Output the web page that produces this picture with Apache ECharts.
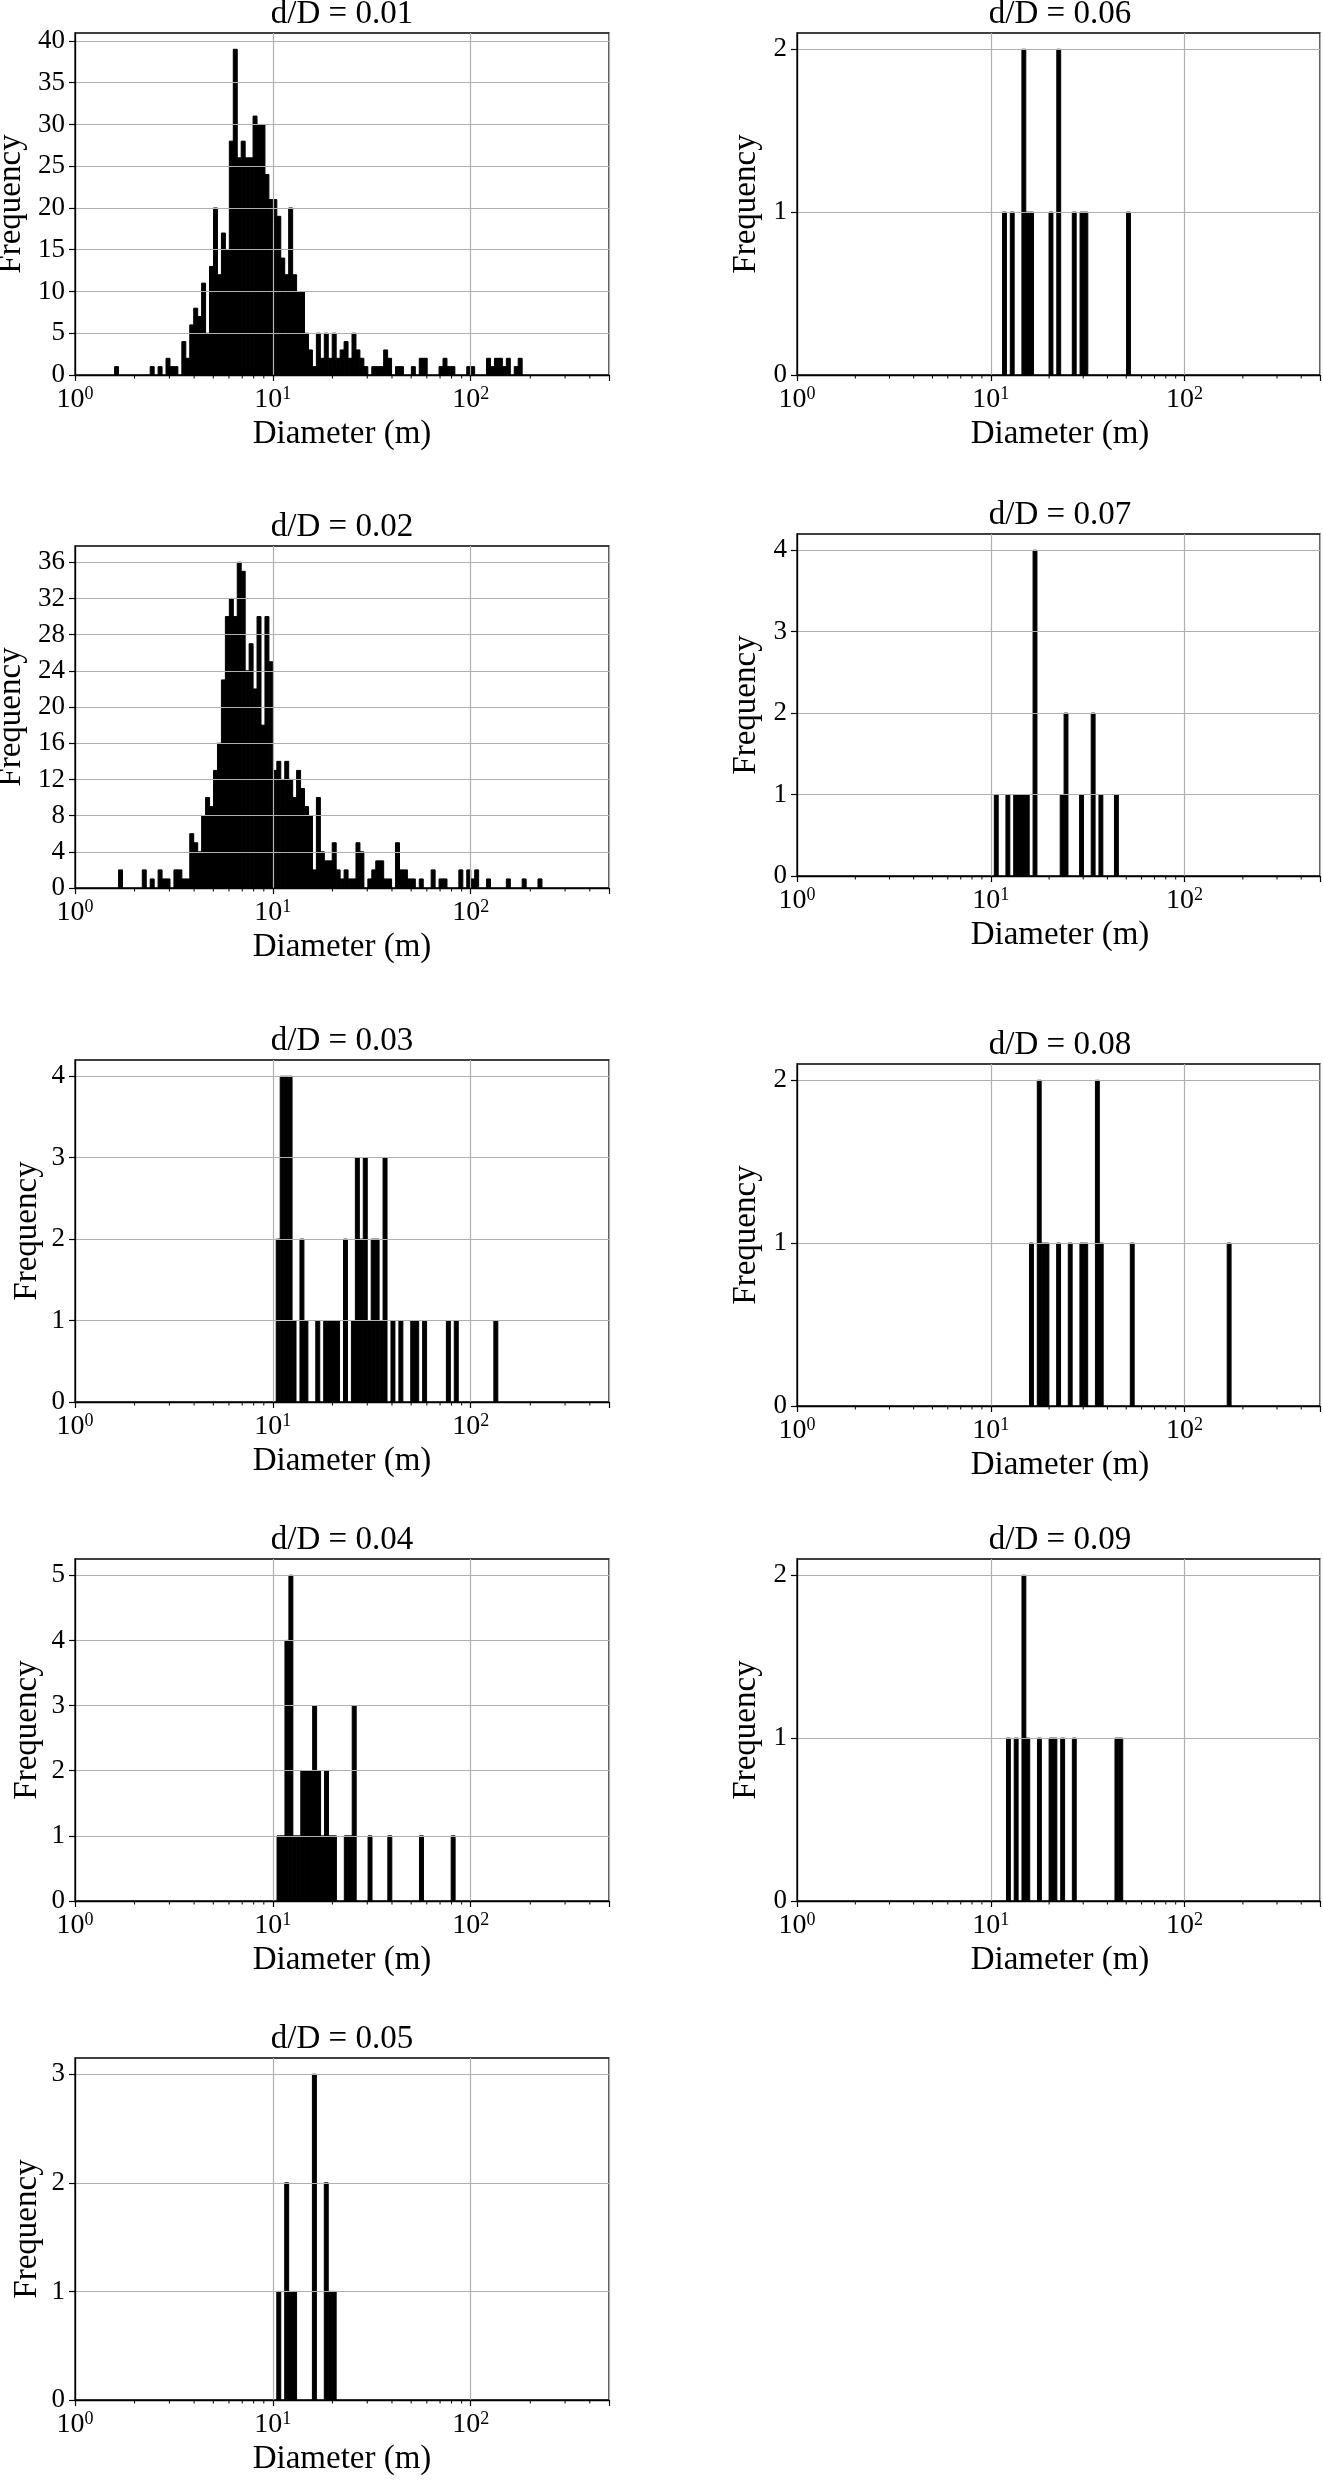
<!DOCTYPE html>
<html><head><meta charset="utf-8">
<script src="https://cdn.jsdelivr.net/npm/echarts@6/dist/echarts.min.js"></script>
<style>html,body{margin:0;padding:0;background:#fff}#c{width:1323px;height:2480px}</style>
</head><body><div id="c"></div>
<script>
// ---------------- data ----------------
const titles = ['d/D = 0.01','d/D = 0.02','d/D = 0.03','d/D = 0.04','d/D = 0.05','d/D = 0.06','d/D = 0.07','d/D = 0.08','d/D = 0.09'];
const xLabel = 'Diameter (m)';
const yLabel = 'Frequency';
const binWidthDex = 0.02;               // histogram bin width in log10(diameter)
const binStart = [1.585, 1.66, 10.4, 10.5, 10.47, 11.5, 10.43, 15.85, 12.05]; // left edge of first bin (m)

const counts001 = [1,0,0,0,0,0,0,0,0,1, 0,1,0,2,1,1,0,4,2,6, 8,7,11,5,13,20,12,17,15,28,
  39,26,28,26,26,31,30,30,24,21, 21,19,14,12,20,12,10,10,5,3, 1,5,2,5,2,5,2,3,4,2,
  5,3,2,1,0,1,1,1,3,2, 0,1,1,0,0,1,0,2,2,0, 0,0,1,2,1,1,0,0,0,1, 1,0,0,0,2,1,2,2,1,2, 0,1,2];
const counts002 = [2,0,0,0,0,0,2,0,1,0, 2,1,1,0,2,2,1,1,6,5, 4,8,10,9,13,16,23,30,32,30,
  36,35,24,27,22,30,18,30,25,13, 14,12,14,12,10,13,11,9,8,2, 10,4,3,3,5,2,1,2,1,1,
  5,4,0,1,2,3,3,1,1,0, 5,2,2,1,1,0,1,0,0,2, 0,1,1,0,0,0,2,0,2,1, 2,0,0,1,0,0,0,0,1,0, 0,0,1,0,0,0,1];
const counts003 = [2,4,4,4,1,0,2,1,0,0, 1,0,1,1,1,1,0,2,0,1, 3,2,3,1,2,2,1,3,0,1,
  0,1,0,0,1,1,0,1,0,0, 0,0,0,1,0,1,0,0,0,0, 0,0,0,0,0,1];
const counts004 = [1,1,4,5,1,1,2,2,2,3, 2,1,2,1,1,0,0,1,1,3, 0,0,0,1,0,0,0,0,1,0,
  0,0,0,0,0,0,1,0,0,0, 0,0,0,0,1];
const counts005 = [1,0,2,1,1,0,0,0,0,3,0,0,2,1,1];
const counts006 = [1,0,1,0,0,2,1,1,0,0, 0,0,1,0,2,0,0,0,1,0, 1,1,0,0,0,0,0,0,0,0, 0,0,1];
const counts007 = [1,0,0,1,0,1,1,1,1,0, 4,0,0,0,0,0,0,1,2,0, 0,0,1,0,0,2,0,1,0,0, 0,1];
const counts008 = [1,0,2,1,1,0,0,1,0,0, 1,0,0,1,1,0,0,2,1,0, 0,0,0,0,0,0,1,0,0,0,
  0,0,0,0,0,0,0,0,0,0, 0,0,0,0,0,0,0,0,0,0, 0,1];
const counts009 = [1,0,1,0,2,1,0,0,1,0, 0,1,1,0,1,0,0,1,0,0, 0,0,0,0,0,0,0,0,1,1];
const allCounts = [counts001,counts002,counts003,counts004,counts005,counts006,counts007,counts008,counts009];

const yTicks001 = [0,5,10,15,20,25,30,35,40];
const yTicks002 = [0,4,8,12,16,20,24,28,32,36];
const yTicks003 = [0,1,2,3,4];
const yTicks004 = [0,1,2,3,4,5];
const yTicks005 = [0,1,2,3];
const yTicks006 = [0,1,2];
const yTicks007 = [0,1,2,3,4];
const yTicks008 = [0,1,2];
const yTicks009 = [0,1,2];
const allYTicks = [yTicks001,yTicks002,yTicks003,yTicks004,yTicks005,yTicks006,yTicks007,yTicks008,yTicks009];

const xMin = 1, xMax = 500;
const xMajorTicks = [1, 10, 100];
const xMinorTicks = [2,3,4,5,6,7,8,9,20,30,40,50,60,70,80,90,200,300,400];

// ---------------- layout ----------------
const FONT = '"Liberation Serif", "Times New Roman", serif';
const PH = 342;
const layout = [
  {left:75,  width:534, bottom:375,  ylabX:11},
  {left:75,  width:534, bottom:888,  ylabX:11},
  {left:75,  width:534, bottom:1402, ylabX:27},
  {left:75,  width:534, bottom:1901, ylabX:27},
  {left:75,  width:534, bottom:2400, ylabX:27},
  {left:797, width:528, bottom:375,  ylabX:746},
  {left:797, width:528, bottom:876,  ylabX:746},
  {left:797, width:528, bottom:1406, ylabX:746},
  {left:797, width:528, bottom:1901, ylabX:746}
];

const grids = [], xAxes = [], yAxes = [], series = [], graphics = [];
const grey = '#b0b0b0';

layout.forEach((L, k) => {
  const top = L.bottom - PH;
  grids.push({left: L.left, top: top, width: L.width, height: PH, show: true,
    borderColor: '#000', borderWidth: 1.3, backgroundColor: 'transparent', containLabel: false});
  xAxes.push({type: 'log', logBase: 10, gridIndex: k, min: xMin, max: xMax, z: 3,
    axisLine: {show: true, onZero: false, lineStyle: {color: '#000', width: 1.3}},
    axisTick: {show: true, inside: false, length: 6, lineStyle: {color: '#000', width: 1.2}},
    splitLine: {show: true, lineStyle: {color: grey, width: 1.2}},
    axisLabel: {margin: 10, color: '#000',
      formatter: v => {
        const e = Math.round(Math.log10(v));
        const m = xMajorTicks.indexOf(Math.pow(10, e));
        return (m >= 0 && Math.abs(v - Math.pow(10, e)) < 1e-6 * Math.pow(10, e)) ? '{b|10}{s|' + e + '}' : '';
      },
      rich: {
        b: {fontSize: 28, lineHeight: 30, fontFamily: FONT, color: '#000'},
        s: {fontSize: 18, lineHeight: 14, verticalAlign: 'top', fontFamily: FONT, color: '#000'}
      }}
  });
  const counts = allCounts[k];
  const ticks = allYTicks[k];
  const ymax = Math.max(...counts) * 1.05;
  yAxes.push({type: 'value', gridIndex: k, min: 0, max: ymax, interval: ticks[1] - ticks[0], z: 3,
    axisLine: {show: true, lineStyle: {color: '#000', width: 1.3}},
    axisTick: {show: true, inside: false, length: 6, customValues: ticks, lineStyle: {color: '#000', width: 1.2}},
    splitLine: {show: true, lineStyle: {color: grey, width: 1.2}},
    axisLabel: {customValues: ticks, margin: 10, color: '#000', fontSize: 27, fontFamily: FONT,
      formatter: v => (ticks.indexOf(v) >= 0 ? String(v) : '')}
  });
  // histogram bars
  const data = [];
  counts.forEach((c, i) => {
    if (c > 0) {
      const x0 = binStart[k] * Math.pow(10, binWidthDex * i);
      const x1 = binStart[k] * Math.pow(10, binWidthDex * (i + 1));
      data.push([x0, x1, c]);
    }
  });
  series.push({type: 'custom', xAxisIndex: k, yAxisIndex: k, z: 1, silent: true,
    encode: {x: [0, 1], y: 2}, data: data,
    renderItem: (params, api) => {
      const p0 = api.coord([api.value(0), api.value(2)]);
      const p1 = api.coord([api.value(1), 0]);
      return {type: 'rect', shape: {x: p0[0], y: p0[1], width: p1[0] - p0[0], height: p1[1] - p0[1]},
        style: {fill: '#000', stroke: '#000', lineWidth: 1}};
    }});
  // minor log ticks
  series.push({type: 'custom', xAxisIndex: k, yAxisIndex: k, z: 4, silent: true, clip: false,
    encode: {x: 0, y: 1}, data: xMinorTicks.map(v => [v, 0]),
    renderItem: (params, api) => {
      const c = api.coord([api.value(0), 0]);
      return {type: 'line', shape: {x1: c[0], y1: c[1], x2: c[0], y2: c[1] + 3.5},
        style: {stroke: '#000', lineWidth: 1}};
    }});
  const cxx = (k < 5) ? (L.left + L.width / 2) : 1060;
  graphics.push({type: 'text', x: cxx, y: top - 19, z: 10,
    style: {text: titles[k], font: '33px ' + FONT, fill: '#000', align: 'center', verticalAlign: 'middle',
      textAlign: 'center', textVerticalAlign: 'middle'}});
  graphics.push({type: 'text', x: cxx, y: L.bottom + 59, z: 10,
    style: {text: xLabel, font: '33px ' + FONT, fill: '#000', align: 'center', verticalAlign: 'middle',
      textAlign: 'center', textVerticalAlign: 'middle'}});
  graphics.push({type: 'text', x: L.ylabX, y: L.bottom - PH / 2, rotation: Math.PI / 2, z: 10,
    style: {text: yLabel, font: '33px ' + FONT, fill: '#000', align: 'center', verticalAlign: 'middle',
      textAlign: 'center', textVerticalAlign: 'middle'}});
});

const chart = echarts.init(document.getElementById('c'), null, {renderer: 'canvas', width: 1323, height: 2480});
chart.setOption({
  backgroundColor: '#fff',
  animation: false,
  grid: grids, xAxis: xAxes, yAxis: yAxes, series: series,
  graphic: {elements: graphics}
});
</script>
</body></html>
